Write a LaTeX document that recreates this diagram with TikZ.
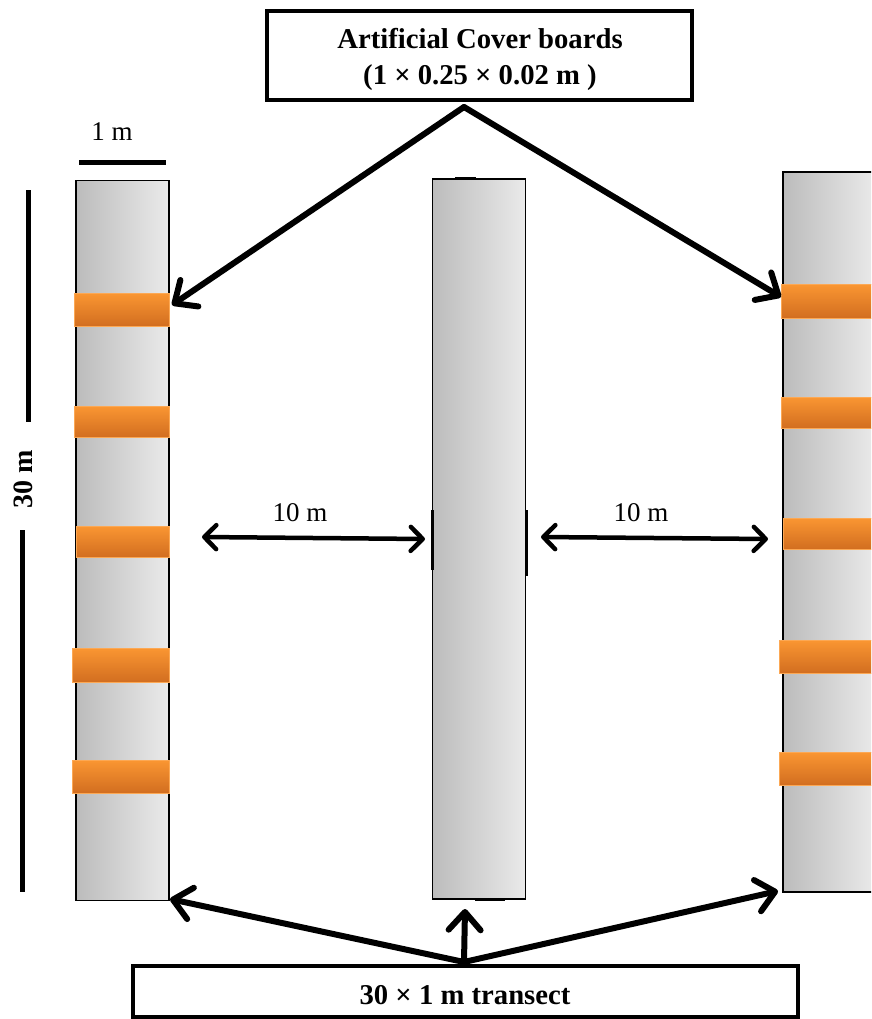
\documentclass[tikz,border=0pt]{standalone}
\usepackage{fontspec}
\setmainfont{Liberation Serif}
\usetikzlibrary{arrows.meta}
\definecolor{stripL}{RGB}{188,188,188}
\definecolor{stripR}{RGB}{234,234,234}
\definecolor{boardT}{RGB}{250,150,50}
\definecolor{boardB}{RGB}{210,110,32}
\definecolor{boardE}{RGB}{252,168,84}
\tikzset{
  strip/.style={draw=black, line width=1.5pt, left color=stripL, right color=stripR, inner sep=0pt, minimum width=93pt, minimum height=720pt},
  board/.style={draw=boardE, line width=0.8pt, top color=boardT, bottom color=boardB, inner sep=0pt},
  box/.style={draw, line width=4pt, fill=white, inner sep=0pt},
  boxtext/.style={inner sep=0pt, align=center, font=\fontsize{28.7}{36}\selectfont\bfseries},
  bigarrow/.style={line width=6pt, line cap=round, -{Straight Barb[length=18pt,width=32pt,line cap=round,line join=round]}},
  dimarrow/.style={line width=4.5pt, line cap=round, {Straight Barb[length=12pt,width=24pt,line cap=round,line join=round]}-{Straight Barb[length=12pt,width=24pt,line cap=round,line join=round]}},
  lbl/.style={font=\fontsize{27}{32}\selectfont, inner sep=0pt},
  scalebar/.style={line width=5pt},
  stripmark/.style={line width=3pt}
}
\begin{document}
\begin{tikzpicture}[x=1pt,y=-1pt]
\useasboundingbox (0,0) rectangle (871,1019);
\clip (0,0) rectangle (871,1019);

% transect strips
\node[strip] (L) at (122.5,540.5) {};
\node[strip] (M) at (479,539) {};
\node[strip] (R) at (829.5,532) {};

% marks on middle strip
\draw[stripmark] (432,510) -- (432,570);
\draw[stripmark] (526,510) -- (526,576);
\draw[stripmark] (455,179) -- (476,179);
\draw[stripmark] (475,899) -- (505,899);

% cover boards left
\node[board, minimum width=95pt, minimum height=33pt] (l1) at (121.5,309.5) {};
\node[board, minimum width=95pt, minimum height=31pt] (l2) at (121.5,421.5) {};
\node[board, minimum width=93pt, minimum height=31pt] (l3) at (122.5,541.5) {};
\node[board, minimum width=97pt, minimum height=34pt] (l4) at (120.5,665) {};
\node[board, minimum width=97pt, minimum height=33pt] (l5) at (120.5,776.5) {};
% cover boards right
\node[board, minimum width=95pt, minimum height=34pt] (r1) at (828.5,301) {};
\node[board, minimum width=95pt, minimum height=31pt] (r2) at (828.5,412.5) {};
\node[board, minimum width=93pt, minimum height=31pt] (r3) at (829.5,533.5) {};
\node[board, minimum width=97pt, minimum height=33pt] (r4) at (827.5,656.5) {};
\node[board, minimum width=97pt, minimum height=33pt] (r5) at (827.5,768.5) {};

% scale bars
\coordinate (s1a) at (79,163);
\coordinate (s1b) at (166,163);
\draw[scalebar] (s1a) -- (s1b);
\node[lbl] (onem) at (112,132) {1 m};
\coordinate (v1a) at (28,190);
\coordinate (v1b) at (28,422);
\coordinate (v2a) at (22,530);
\coordinate (v2b) at (22,892);
\draw[scalebar] (v1a) -- (v1b);
\draw[scalebar] (v2a) -- (v2b);
\node[lbl, font=\fontsize{28}{32}\selectfont\bfseries, rotate=90] (thirty) at (23,479) {30 m};

% 10 m distances
\coordinate (d1a) at (202,537);
\coordinate (d1b) at (425,539);
\coordinate (d2a) at (541,537);
\coordinate (d2b) at (768,539);
\draw[dimarrow] (d1a) -- (d1b);
\draw[dimarrow] (d2a) -- (d2b);
\node[lbl] (ten1) at (300,513) {10 m};
\node[lbl] (ten2) at (641,513) {10 m};

% label boxes
\node[box, minimum width=425pt, minimum height=89pt] (top) at (479.5,55.5) {};
\node[boxtext] (toptext) at (480,59) {Artificial Cover boards\\(1 × 0.25 × 0.02 m )};
\node[box, minimum width=665pt, minimum height=51pt] (bot) at (465.5,991.5) {};
\node[boxtext] (bottext) at (465,995) {30 × 1 m transect};

% arrows from top box
\coordinate (ta) at (464,107);
\coordinate (lt) at (172,305);
\coordinate (rt) at (781,297);
\draw[bigarrow] (ta) -- (lt);
\draw[bigarrow] (ta) -- (rt);

% arrows from bottom box
\coordinate (ba) at (464,962);
\coordinate (lb) at (170,899);
\coordinate (rb) at (778,891);
\coordinate (mb) at (465,909);
\draw[bigarrow] (ba) -- (lb);
\draw[bigarrow] (ba) -- (rb);
\draw[bigarrow] (ba) -- (mb);
\end{tikzpicture}
\end{document}
